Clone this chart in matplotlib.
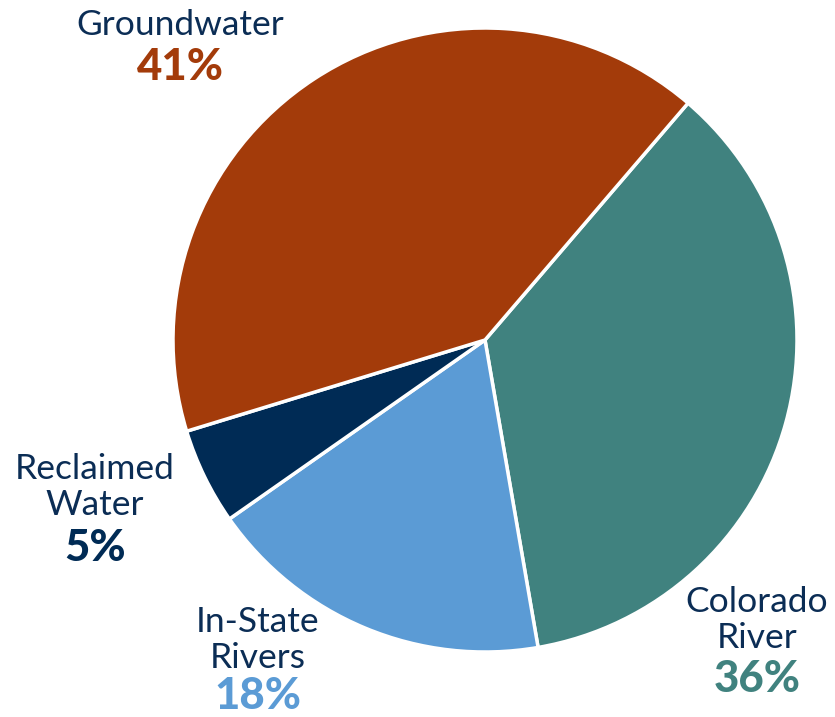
import matplotlib
matplotlib.use("Agg")
import matplotlib.pyplot as plt

# wedges in clockwise order, starting from the top-right boundary
sources = ["Colorado\nRiver", "In-State\nRivers", "Reclaimed\nWater", "Groundwater"]
shares = [36, 18, 5, 41]
colors = ["#40827F", "#5B9BD5", "#002B55", "#A33B0A"]
label_color = "#0B2D55"

W, H = 835, 717
fig = plt.figure(figsize=(W / 100, H / 100), dpi=100)
ax = fig.add_axes([0, 0, 1, 1])

ax.pie(shares, colors=colors, startangle=49.4, counterclock=False,
       center=(485, H - 340), radius=312, frame=True,
       wedgeprops=dict(edgecolor="white", linewidth=2.5))
ax.set_xlim(0, W)
ax.set_ylim(0, H)
ax.set_aspect("equal")
ax.axis("off")

# label anchors in pixels from top-left: x centre, baseline of the last
# name line, baseline of the percent
label_pos = [(757, 648, 692), (258, 668, 709), (95, 515, 561), (180, 35, 80)]
line_step = 36

for name, val, col, (x, yn, yp) in zip(sources, shares, colors, label_pos):
    lines = name.split("\n")
    for i, line in enumerate(lines):
        y = yn - (len(lines) - 1 - i) * line_step
        ax.text(x, H - y, line, ha="center", va="baseline", fontsize=25.5,
                family="Lato", color=label_color)
    ax.text(x, H - yp, f"{val}%", ha="center", va="baseline", fontsize=31.5,
            family="Lato", fontweight="black", color=col)

fig.savefig("out.png", dpi=100)
